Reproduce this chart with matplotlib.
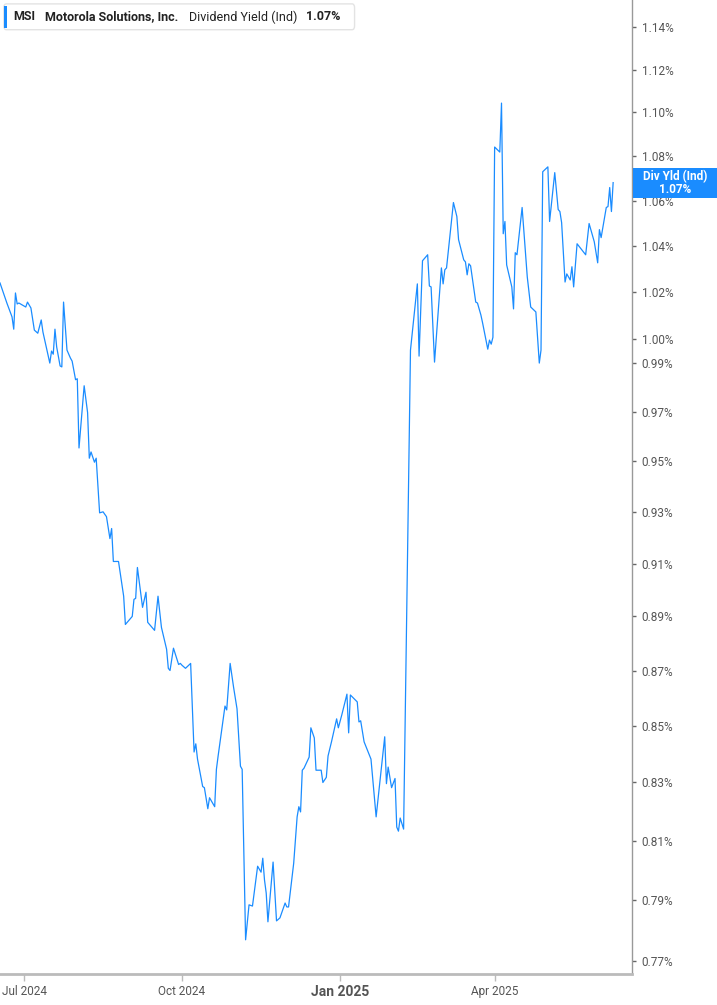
import pandas as pd
import matplotlib
matplotlib.use("Agg")
import matplotlib.pyplot as plt
from matplotlib.patches import FancyBboxPatch, Rectangle
from matplotlib.ticker import FixedLocator, FixedFormatter, NullLocator

plt.rcParams['font.family'] = ['Roboto', 'DejaVu Sans']

dates = [
    "2024-06-17", "2024-06-19", "2024-06-21", "2024-06-24", "2024-06-25", "2024-06-26", "2024-06-27", "2024-06-28",
    "2024-07-02", "2024-07-03", "2024-07-05", "2024-07-07", "2024-07-09", "2024-07-11", "2024-07-12", "2024-07-16",
    "2024-07-17", "2024-07-18", "2024-07-19", "2024-07-20", "2024-07-22", "2024-07-23", "2024-07-24", "2024-07-26",
    "2024-07-28", "2024-07-29", "2024-07-31", "2024-08-01", "2024-08-02", "2024-08-05", "2024-08-07", "2024-08-08",
    "2024-08-09", "2024-08-11", "2024-08-12", "2024-08-14", "2024-08-16", "2024-08-18", "2024-08-20", "2024-08-21",
    "2024-08-22", "2024-08-25", "2024-08-28", "2024-08-29", "2024-09-02", "2024-09-03", "2024-09-04", "2024-09-05",
    "2024-09-08", "2024-09-10", "2024-09-11", "2024-09-15", "2024-09-17", "2024-09-19", "2024-09-22", "2024-09-23",
    "2024-09-24", "2024-09-26", "2024-09-29", "2024-09-30", "2024-10-01", "2024-10-03", "2024-10-06", "2024-10-08",
    "2024-10-09", "2024-10-10", "2024-10-13", "2024-10-14", "2024-10-16", "2024-10-17", "2024-10-20", "2024-10-21",
    "2024-10-22", "2024-10-24", "2024-10-26", "2024-10-27", "2024-10-29", "2024-10-31", "2024-11-02", "2024-11-04",
    "2024-11-05", "2024-11-07", "2024-11-09", "2024-11-11", "2024-11-14", "2024-11-16", "2024-11-17", "2024-11-18",
    "2024-11-19", "2024-11-20", "2024-11-23", "2024-11-25", "2024-11-27", "2024-11-30", "2024-12-01", "2024-12-02",
    "2024-12-05", "2024-12-07", "2024-12-08", "2024-12-09", "2024-12-10", "2024-12-11", "2024-12-14", "2024-12-15",
    "2024-12-17", "2024-12-18", "2024-12-21", "2024-12-22", "2024-12-24", "2024-12-25", "2024-12-27", "2024-12-30",
    "2024-12-31", "2025-01-02", "2025-01-05", "2025-01-06", "2025-01-07", "2025-01-11", "2025-01-12", "2025-01-13",
    "2025-01-15", "2025-01-19", "2025-01-22", "2025-01-27", "2025-01-28", "2025-01-29", "2025-01-31", "2025-02-02",
    "2025-02-03", "2025-02-04", "2025-02-05", "2025-02-07", "2025-02-11", "2025-02-15", "2025-02-16", "2025-02-18",
    "2025-02-21", "2025-02-22", "2025-02-23", "2025-02-25", "2025-03-01", "2025-03-02", "2025-03-03", "2025-03-04",
    "2025-03-08", "2025-03-10", "2025-03-11", "2025-03-14", "2025-03-15", "2025-03-16", "2025-03-17", "2025-03-18",
    "2025-03-21", "2025-03-22", "2025-03-24", "2025-03-25", "2025-03-28", "2025-03-29", "2025-03-30", "2025-03-31",
    "2025-04-01", "2025-04-04", "2025-04-05", "2025-04-06", "2025-04-07", "2025-04-08", "2025-04-11", "2025-04-12",
    "2025-04-13", "2025-04-14", "2025-04-17", "2025-04-20", "2025-04-22", "2025-04-25", "2025-04-27", "2025-04-28",
    "2025-04-29", "2025-05-02", "2025-05-03", "2025-05-06", "2025-05-08", "2025-05-09", "2025-05-10", "2025-05-12",
    "2025-05-13", "2025-05-15", "2025-05-16", "2025-05-17", "2025-05-19", "2025-05-24", "2025-05-26", "2025-05-29",
    "2025-05-31", "2025-06-01", "2025-06-02", "2025-06-05", "2025-06-06", "2025-06-07", "2025-06-08", "2025-06-09",
]

div_yield = [
    1.0239, 1.0196, 1.0153, 1.0094, 1.0042, 1.0196, 1.0149, 1.0153,
    1.0136, 1.0157, 1.0132, 1.0038, 1.0025, 1.0081, 1.0030, 0.9900,
    0.9950, 0.9937, 1.0042, 0.9967, 0.9888, 0.9884, 1.0157, 0.9954,
    0.9921, 0.9908, 0.9831, 0.9835, 0.9553, 0.9806, 0.9696, 0.9512,
    0.9537, 0.9496, 0.9512, 0.9296, 0.9300, 0.9281, 0.9196, 0.9235,
    0.9108, 0.9108, 0.8976, 0.8870, 0.8900, 0.8964, 0.8968, 0.9085,
    0.8934, 0.8991, 0.8878, 0.8848, 0.8976, 0.8859, 0.8778, 0.8708,
    0.8700, 0.8782, 0.8722, 0.8726, 0.8719, 0.8708, 0.8726, 0.8407,
    0.8436, 0.8382, 0.8286, 0.8282, 0.8209, 0.8247, 0.8216, 0.8346,
    0.8393, 0.8482, 0.8571, 0.8557, 0.8726, 0.8639, 0.8561, 0.8357,
    0.8346, 0.7769, 0.7884, 0.7880, 0.8013, 0.7993, 0.8040, 0.7967,
    0.7923, 0.7828, 0.8027, 0.7831, 0.7841, 0.7890, 0.7877, 0.7877,
    0.8023, 0.8181, 0.8216, 0.8198, 0.8343, 0.8350, 0.8389, 0.8493,
    0.8457, 0.8343, 0.8343, 0.8300, 0.8318, 0.8393, 0.8443, 0.8525,
    0.8493, 0.8539, 0.8614, 0.8475, 0.8611, 0.8586, 0.8514, 0.8518,
    0.8443, 0.8382, 0.8181, 0.8461, 0.8296, 0.8354, 0.8282, 0.8314,
    0.8146, 0.8132, 0.8177, 0.8139, 0.9954, 1.0235, 0.9929, 1.0335,
    1.0361, 1.0226, 1.0222, 0.9904, 1.0304, 1.0235, 1.0296, 1.0304,
    1.0591, 1.0529, 1.0427, 1.0339, 1.0330, 1.0274, 1.0322, 1.0313,
    1.0157, 1.0153, 1.0102, 1.0068, 0.9958, 0.9996, 0.9979, 1.0008,
    1.0841, 1.0818, 1.1043, 1.0453, 1.0507, 1.0317, 1.0222, 1.0128,
    1.0370, 1.0361, 1.0569, 1.0265, 1.0136, 1.0115, 0.9900, 0.9954,
    1.0729, 1.0751, 1.0507, 1.0725, 1.0560, 1.0551, 1.0502, 1.0243,
    1.0278, 1.0252, 1.0309, 1.0222, 1.0409, 1.0361, 1.0498, 1.0418,
    1.0326, 1.0471, 1.0436, 1.0569, 1.0573, 1.0658, 1.0551, 1.0680,
]

y_ticks = [0.77, 0.79, 0.81, 0.83, 0.85, 0.87, 0.89, 0.91, 0.93, 0.95, 0.97, 0.99,
           1.00, 1.02, 1.04, 1.06, 1.08, 1.10, 1.12, 1.14]
x_tick_dates = ["2024-07-01", "2024-10-01", "2025-01-01", "2025-04-01"]
x_tick_labels = ["Jul 2024", "Oct 2024", "Jan 2025", "Apr 2025"]
current_yield = "1.07%"

line_color = "#1a8cff"
text_gray = "#555555"

x = pd.to_datetime(dates)

fig = plt.figure(figsize=(7.17, 10.05), dpi=100)
ax = fig.add_axes([0.0, 0.0308, 0.8815, 0.9692])

ax.plot(x, div_yield, color=line_color, linewidth=0.9)

ax.set_yscale("log")
ax.set_ylim(0.7658, 1.1532)
ax.set_xlim(pd.Timestamp("2024-06-17"), pd.Timestamp("2025-06-20"))

ax.yaxis.set_major_locator(FixedLocator(y_ticks))
ax.yaxis.set_major_formatter(FixedFormatter([f"{v:.2f}%" for v in y_ticks]))
ax.yaxis.set_minor_locator(NullLocator())
ax.yaxis.tick_right()
ax.tick_params(axis="y", which="major", direction="out", length=3, width=1,
               color="#666666", labelcolor=text_gray, labelsize=8.5, pad=4)

ax.set_xticks(pd.to_datetime(x_tick_dates))
ax.set_xticklabels(x_tick_labels)
ax.tick_params(axis="x", direction="out", length=5, width=1, color="#bbbbbb",
               labelcolor=text_gray, labelsize=8.5, pad=3)
for lbl in ax.get_xticklabels():
    if lbl.get_text().startswith("Jan"):
        lbl.set_fontweight("bold")
        lbl.set_fontsize(10)

for side in ["top", "left"]:
    ax.spines[side].set_visible(False)
ax.spines["right"].set_color("#999999")
ax.spines["right"].set_linewidth(1)
ax.spines["bottom"].set_color("#bbbbbb")
ax.spines["bottom"].set_linewidth(2)

# header box
box = FancyBboxPatch((0.006, 0.9695), 0.555, 0.0265, boxstyle="round,pad=0,rounding_size=0.004",
                     transform=ax.transAxes, facecolor="white", edgecolor="#e3e3e3", linewidth=1,
                     zorder=5)
ax.add_patch(box)
ax.add_patch(Rectangle((0.0063, 0.9715), 0.0045, 0.0225, transform=ax.transAxes,
                       facecolor=line_color, edgecolor="none", zorder=6))
hy = 0.9826
ax.text(0.0206, hy, "MSI", transform=ax.transAxes, fontsize=9, fontweight="bold",
        color="#222222", va="center", zorder=7)
ax.text(0.0712, hy, "Motorola Solutions, Inc.", transform=ax.transAxes, fontsize=9,
        fontweight="bold", color="#222222", va="center", zorder=7)
ax.text(0.299, hy, "Dividend Yield (Ind)", transform=ax.transAxes, fontsize=9,
        color="#222222", va="center", zorder=7)
ax.text(0.484, hy, current_yield, transform=ax.transAxes, fontsize=9, fontweight="bold",
        color="#222222", va="center", zorder=7)

# last value tag on the right axis, centred on the last point
last = div_yield[-1]
tag_half = 1.0063
tag = Rectangle((1.0015, last / tag_half), 0.134, last * tag_half - last / tag_half,
                transform=ax.get_yaxis_transform(), facecolor=line_color,
                edgecolor="none", clip_on=False, zorder=6)
ax.add_patch(tag)
ax.text(1.068, last, "Div Yld (Ind)\n" + current_yield, transform=ax.get_yaxis_transform(),
        ha="center", va="center", fontsize=8.5, fontweight="bold", color="white",
        linespacing=1.0, multialignment="center", clip_on=False, zorder=7)

fig.savefig("out.png", dpi=100)
